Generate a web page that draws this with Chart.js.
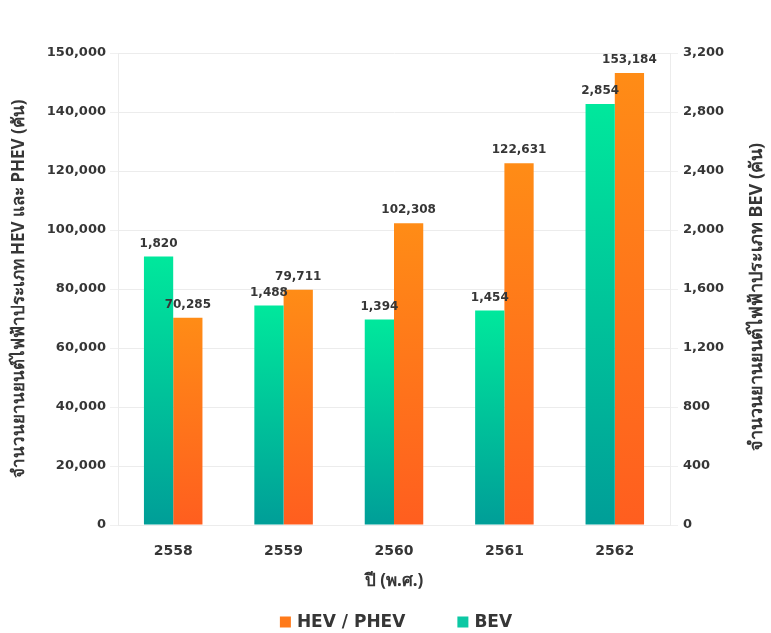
<!DOCTYPE html>
<html>
<head>
<meta charset="utf-8">
<script src="https://cdn.jsdelivr.net/npm/chart.js@4"></script>
<style>
  html, body { margin: 0; padding: 0; background: #ffffff; }
  #wrap { width: 771px; height: 633px; }
</style>
</head>
<body>
<div id="wrap"><canvas id="c" width="771" height="633"></canvas></div>
<script>
// Vehicle registrations by Buddhist-era year
const years = ['2558', '2559', '2560', '2561', '2562'];
const hevPhev = [70285, 79711, 102308, 122631, 153184];
const bev = [1820, 1488, 1394, 1454, 2854];

// Left-axis tick labels (the top line carries the "150,000" label)
const leftTickLabels = ['0', '20,000', '40,000', '60,000', '80,000', '100,000', '120,000', '140,000', '150,000'];
const rightTickLabels = ['0', '400', '800', '1,200', '1,600', '2,000', '2,400', '2,800', '3,200'];

const leftTitle = 'จำนวนยานยนต์ไฟฟ้าประเภท HEV และ PHEV (คัน)';
const rightTitle = 'จำนวนยานยนต์ไฟฟ้าประเภท BEV (คัน)';
const xTitle = 'ปี (พ.ศ.)';

const NUM_FONT = "'DejaVu Sans', 'Noto Sans', sans-serif";
const TITLE_FONT = "'Noto Sans', 'DejaVu Sans', sans-serif";
const TEXT = '#363636';

const COLORS = {
  bev: { top: '#00e89c', bottom: '#009e98', flat: '#0cc8a4' },
  hev: { top: '#ff8c16', bottom: '#ff5e1f', flat: '#ff7a1a' }
};

const fmt = v => v.toLocaleString('en-US');

// per-bar vertical gradient, top colour -> bottom colour
function barGradient(c) {
  return function (ctx) {
    const chart = ctx.chart;
    if (ctx.type !== 'data' || !chart.chartArea) return c.flat;
    const ds = ctx.dataset;
    const scale = chart.scales[ds.yAxisID];
    const y0 = scale.getPixelForValue(ds.data[ctx.dataIndex]);
    const y1 = scale.getPixelForValue(0);
    const g = chart.ctx.createLinearGradient(0, y0, 0, y1);
    g.addColorStop(0, c.top);
    g.addColorStop(1, c.bottom);
    return g;
  };
}

// value labels above each bar
const valueLabels = {
  id: 'valueLabels',
  afterDatasetsDraw(chart) {
    const c = chart.ctx;
    c.save();
    c.font = "bold 12px " + NUM_FONT;
    c.fillStyle = TEXT;
    c.textAlign = 'center';
    c.textBaseline = 'bottom';
    chart.data.datasets.forEach((ds, di) => {
      const meta = chart.getDatasetMeta(di);
      meta.data.forEach((bar, i) => {
        c.fillText(fmt(ds.data[i]), bar.x, bar.y - 7);
      });
    });
    c.restore();
  }
};

// right-axis title reading bottom-to-top, and the legend row under the axis title
const extras = {
  id: 'extras',
  afterDraw(chart) {
    const c = chart.ctx;
    const area = chart.chartArea;
    c.save();
    c.fillStyle = TEXT;
    c.font = "bold 18px " + TITLE_FONT;
    c.textAlign = 'center';
    c.textBaseline = 'middle';
    c.translate(757, (area.top + area.bottom) / 2 + 8);
    c.rotate(-Math.PI / 2);
    c.fillText(rightTitle, 0, 0);
    c.restore();

    // legend: HEV / PHEV first, then BEV
    const items = [
      { text: chart.data.datasets[1].label, color: COLORS.hev.flat },
      { text: chart.data.datasets[0].label, color: COLORS.bev.flat }
    ];
    c.save();
    c.font = "bold 17px " + NUM_FONT;
    c.textBaseline = 'middle';
    c.textAlign = 'left';
    const box = 11, gapBox = 6, gapItem = 52;
    const widths = items.map(it => box + gapBox + c.measureText(it.text).width);
    const total = widths.reduce((a, b) => a + b, 0) + gapItem * (items.length - 1);
    let x = (area.left + area.right) / 2 - total / 2 + 2;
    const y = 622;
    items.forEach((it, i) => {
      c.fillStyle = it.color;
      c.fillRect(x, y - box / 2, box, box);
      c.fillStyle = TEXT;
      c.fillText(it.text, x + box + gapBox, y + 1);
      x += widths[i] + gapItem;
    });
    c.restore();
  }
};

new Chart(document.getElementById('c'), {
  type: 'bar',
  data: {
    labels: years,
    datasets: [
      {
        label: 'BEV',
        data: bev,
        yAxisID: 'yRight',
        backgroundColor: barGradient(COLORS.bev),
        categoryPercentage: 0.53,
        barPercentage: 1.0
      },
      {
        label: 'HEV / PHEV',
        data: hevPhev,
        yAxisID: 'yLeft',
        backgroundColor: barGradient(COLORS.hev),
        categoryPercentage: 0.53,
        barPercentage: 1.0
      }
    ]
  },
  options: {
    responsive: false,
    animation: false,
    devicePixelRatio: 1,
    layout: { padding: { top: 53, left: 0, right: 0, bottom: 0 } },
    plugins: {
      tooltip: { enabled: false },
      legend: { display: false }
    },
    scales: {
      x: {
        grid: { display: false, drawTicks: false },
        border: { display: false },
        ticks: {
          color: TEXT,
          font: { family: NUM_FONT, size: 14, weight: 'bold' },
          padding: 18
        },
        title: {
          display: true,
          text: xTitle,
          color: TEXT,
          font: { family: TITLE_FONT, size: 17, weight: 'bold' },
          padding: { top: 4, bottom: 42 }
        },
        afterFit(s) { s.height = 108; }
      },
      yLeft: {
        position: 'left',
        min: 0,
        max: 160000,
        grid: { color: '#ececec', lineWidth: 1, tickLength: 8, tickColor: '#f0f0f0' },
        border: { color: '#ececec' },
        ticks: {
          stepSize: 20000,
          color: TEXT,
          font: { family: NUM_FONT, size: 13, weight: 'bold' },
          padding: 4,
          callback: (v, i) => leftTickLabels[i]
        },
        title: {
          display: true,
          text: leftTitle,
          color: TEXT,
          font: { family: TITLE_FONT, size: 17, weight: 'bold' },
          padding: { top: 9, bottom: 0 }
        },
        afterFit(s) { s.width = 118; }
      },
      yRight: {
        position: 'right',
        min: 0,
        max: 3200,
        grid: { drawOnChartArea: false, tickLength: 8, tickColor: '#f0f0f0' },
        border: { color: '#ececec' },
        ticks: {
          stepSize: 400,
          color: TEXT,
          font: { family: NUM_FONT, size: 13, weight: 'bold' },
          padding: 5,
          callback: (v, i) => rightTickLabels[i]
        },
        afterFit(s) { s.width = 101; }
      }
    }
  },
  plugins: [valueLabels, extras]
});
</script>
</body>
</html>
